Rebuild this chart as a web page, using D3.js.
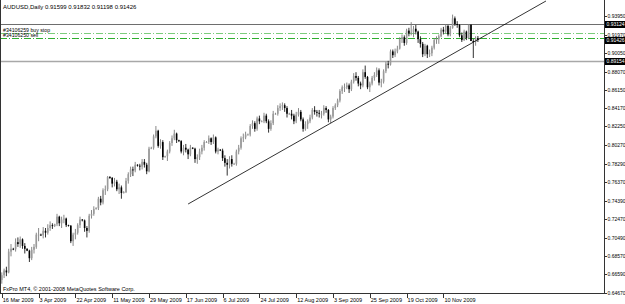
<!DOCTYPE html>
<html>
<head>
<meta charset="utf-8">
<script src="https://d3js.org/d3.v7.min.js"></script>
<style>
body { margin: 0; background: #fff; }
svg { display: block; font-family: "Liberation Sans", Arial, sans-serif; }
</style>
</head>
<body>
<div id="chart"></div>
<script>
// AUDUSD daily bars, 16 Mar 2009 onwards (one entry per bar)
const opens = [
  .6600,.6650,.6700,.6680,.6900,.6930,.6925,.7000,.6980,.7030,.6960,.6930,.6910,.6830,.6920,.6950,
  .7080,.7080,.7075,.7120,.7100,.7150,.7180,.7170,.7190,.7270,.7200,.7240,.7250,.7180,.7175,.7010,
  .7080,.7100,.7180,.7240,.7230,.7150,.7120,.7280,.7300,.7350,.7360,.7460,.7420,.7550,.7560,.7690,
  .7680,.7620,.7640,.7560,.7580,.7520,.7530,.7650,.7720,.7770,.7760,.7820,.7810,.7800,.7850,.7820,
  .7750,.7990,.8000,.8120,.8180,.8020,.8060,.7900,.7910,.7960,.8050,.8100,.8150,.8080,.8070,.7960,
  .8000,.7980,.7930,.8000,.7990,.7880,.7900,.7960,.8000,.8060,.8060,.8100,.8060,.8110,.7960,.7980,
  .7970,.7890,.7840,.7820,.7880,.7830,.7830,.7960,.8000,.8100,.8110,.8140,.8140,.8230,.8260,.8200,
  .8310,.8280,.8280,.8340,.8280,.8200,.8260,.8360,.8360,.8420,.8440,.8450,.8420,.8360,.8360,.8340,
  .8280,.8350,.8380,.8300,.8200,.8250,.8280,.8320,.8400,.8380,.8370,.8360,.8360,.8420,.8400,.8300,
  .8330,.8420,.8450,.8500,.8600,.8640,.8640,.8660,.8620,.8700,.8760,.8740,.8680,.8660,.8800,.8750,
  .8640,.8680,.8740,.8770,.8820,.8690,.8700,.8810,.8890,.8880,.9020,.8980,.9020,.9050,.9150,.9170,
  .9110,.9240,.9210,.9220,.9260,.9230,.9150,.9100,.8990,.9080,.8990,.9000,.9060,.9140,.9150,.9180,
  .9250,.9230,.9290,.9200,.9270,.9370,.9310,.9300,.9190,.9140,.9230,.9160,.9300,.9130,.9120,.91599
];
const highs = [
  .6680,.6720,.6740,.6930,.6980,.6940,.7040,.7050,.7060,.7040,.6990,.6935,.6920,.6950,.6980,.7100,
  .7150,.7090,.7160,.7150,.7190,.7220,.7200,.7195,.7300,.7280,.7270,.7290,.7260,.7185,.7180,.7100,
  .7140,.7200,.7270,.7245,.7240,.7170,.7300,.7340,.7380,.7370,.7480,.7490,.7570,.7600,.7700,.7700,
  .7690,.7680,.7660,.7620,.7600,.7540,.7680,.7740,.7800,.7800,.7850,.7825,.7830,.7880,.7880,.7840,
  .8010,.8010,.8140,.8230,.8190,.8090,.8080,.7915,.7980,.8070,.8130,.8190,.8160,.8085,.8080,.8030,
  .8040,.7990,.8030,.8005,.8000,.7930,.7990,.8030,.8080,.8070,.8130,.8110,.8140,.8120,.8000,.7985,
  .7990,.7920,.7880,.7910,.7920,.7840,.7980,.8030,.8120,.8150,.8170,.8150,.8250,.8290,.8280,.8330,
  .8340,.8290,.8370,.8360,.8300,.8290,.8390,.8370,.8450,.8470,.8480,.8470,.8440,.8370,.8400,.8360,
  .8380,.8420,.8400,.8320,.8280,.8300,.8350,.8420,.8440,.8400,.8400,.8390,.8450,.8440,.8410,.8350,
  .8440,.8470,.8520,.8620,.8660,.8680,.8690,.8680,.8720,.8790,.8800,.8760,.8700,.8830,.8870,.8760,
  .8700,.8760,.8800,.8850,.8840,.8730,.8830,.8910,.8920,.9040,.9040,.9050,.9080,.9170,.9200,.9190,
  .9260,.9270,.9330,.9290,.9300,.9240,.9180,.9120,.9100,.9090,.9040,.9080,.9160,.9180,.9200,.9270,
  .9280,.9310,.9300,.9290,.9410,.9390,.9340,.9310,.9220,.9250,.9240,.9310,.9310,.9150,.9180,.91832
];
const lows = [
  .6560,.6620,.6640,.6670,.6850,.6915,.6900,.6950,.6940,.6930,.6880,.6905,.6790,.6810,.6880,.6930,
  .7010,.7065,.7040,.7050,.7080,.7120,.7140,.7160,.7170,.7170,.7150,.7200,.7160,.7165,.6990,.6960,
  .7030,.7080,.7150,.7220,.7110,.7050,.7100,.7250,.7280,.7345,.7340,.7390,.7400,.7500,.7540,.7670,
  .7580,.7590,.7540,.7510,.7460,.7515,.7520,.7620,.7690,.7700,.7740,.7800,.7760,.7770,.7790,.7720,
  .7740,.7985,.7980,.8100,.8000,.7990,.7870,.7895,.7860,.7940,.8020,.8080,.8050,.8060,.7940,.7920,
  .7950,.7880,.7910,.7985,.7840,.7830,.7870,.7930,.7970,.8050,.8040,.8030,.8040,.7940,.7930,.7965,
  .7860,.7800,.7705,.7780,.7800,.7820,.7810,.7930,.7980,.8060,.8090,.8130,.8120,.8200,.8170,.8180,
  .8250,.8270,.8260,.8260,.8160,.8180,.8240,.8350,.8340,.8390,.8400,.8380,.8320,.8350,.8300,.8250,
  .8260,.8330,.8280,.8170,.8180,.8200,.8260,.8300,.8350,.8330,.8320,.8310,.8340,.8370,.8270,.8260,
  .8310,.8400,.8430,.8480,.8570,.8590,.8620,.8580,.8600,.8680,.8710,.8650,.8620,.8640,.8730,.8620,
  .8590,.8660,.8710,.8750,.8660,.8640,.8680,.8790,.8840,.8870,.8950,.8960,.9000,.9040,.9110,.9080,
  .9090,.9180,.9190,.9170,.9200,.9110,.9060,.8960,.8970,.8950,.8960,.8970,.9040,.9100,.9100,.9170,
  .9200,.9210,.9180,.9180,.9260,.9290,.9270,.9170,.9120,.9130,.9140,.9150,.9130,.8950,.9080,.91198
];
const closes = [
  .6650,.6700,.6680,.6900,.6930,.6925,.7000,.6980,.7030,.6960,.6930,.6910,.6830,.6920,.6950,.7080,
  .7080,.7075,.7120,.7100,.7150,.7180,.7170,.7190,.7270,.7200,.7240,.7250,.7180,.7175,.7010,.7080,
  .7100,.7180,.7240,.7230,.7150,.7120,.7280,.7300,.7350,.7360,.7460,.7420,.7550,.7560,.7690,.7680,
  .7620,.7640,.7560,.7580,.7520,.7530,.7650,.7720,.7770,.7760,.7820,.7810,.7800,.7850,.7820,.7750,
  .7990,.8000,.8120,.8180,.8020,.8060,.7900,.7910,.7960,.8050,.8100,.8150,.8080,.8070,.7960,.8000,
  .7980,.7930,.8000,.7990,.7880,.7900,.7960,.8000,.8060,.8060,.8100,.8060,.8110,.7960,.7980,.7970,
  .7890,.7840,.7820,.7880,.7830,.7830,.7960,.8000,.8100,.8110,.8140,.8140,.8230,.8260,.8200,.8310,
  .8280,.8280,.8340,.8280,.8200,.8260,.8360,.8360,.8420,.8440,.8450,.8420,.8360,.8360,.8340,.8280,
  .8350,.8380,.8300,.8200,.8250,.8280,.8320,.8400,.8380,.8370,.8360,.8360,.8420,.8400,.8300,.8330,
  .8420,.8450,.8500,.8600,.8640,.8640,.8660,.8620,.8700,.8760,.8740,.8680,.8660,.8800,.8750,.8640,
  .8680,.8740,.8770,.8820,.8690,.8700,.8810,.8890,.8880,.9020,.8980,.9020,.9050,.9150,.9170,.9110,
  .9240,.9210,.9220,.9260,.9230,.9150,.9100,.8990,.9080,.8990,.9000,.9060,.9140,.9150,.9180,.9250,
  .9230,.9290,.9200,.9270,.9370,.9310,.9300,.9190,.9140,.9230,.9160,.9300,.9130,.9120,.9160,.91426
];

const dateLabels = ["16 Mar 2009", "3 Apr 2009", "22 Apr 2009", "11 May 2009", "29 May 2009",
  "17 Jun 2009", "6 Jul 2009", "24 Jul 2009", "12 Aug 2009", "3 Sep 2009", "25 Sep 2009",
  "19 Oct 2009", "10 Nov 2009"];
const barsPerLabel = 16;

const priceTicks = [0.93950, 0.91970, 0.90050, 0.88070, 0.86150, 0.84170, 0.82250, 0.80270,
  0.78290, 0.76370, 0.74390, 0.72470, 0.70490, 0.68570, 0.66590, 0.64670];

// horizontal lines with a price box on the axis
const levelPrices = [0.93124, 0.89154];
const levelColors = ["#6e6e6e", "#a8a8a8"];
const bidPrice = 0.91426;

// pending orders
const orderNames = ["#34106259 buy stop", "#34106250 sell"];
const orderPrices = [0.9212, 0.9160];

// trend line: [bar index, price]
const trendBars = [81, 236.6];
const trendPrices = [0.7404, 0.9554];

const title = "AUDUSD,Daily  0.91599 0.91832 0.91198 0.91426";
const footer = "FxPro MT4, \u00a9 2001-2008 MetaQuotes Software Corp.";

const width = 625, height = 304;
const plot = { left: 1, right: 604, top: 0, bottom: 293 };

const svg = d3.select("#chart").append("svg")
    .attr("width", width)
    .attr("height", height);

const x = d3.scaleLinear()
    .domain([0, 192])
    .range([1.8, 443.4]);

const y = d3.scaleLinear()
    .domain([0.64670, 0.93950])
    .range([292.5, 16]);

svg.append("clipPath").attr("id", "plotclip")
  .append("rect")
    .attr("x", plot.left).attr("y", plot.top)
    .attr("width", plot.right - plot.left).attr("height", plot.bottom - plot.top);

const area = svg.append("g").attr("clip-path", "url(#plotclip)");

// level lines
levelPrices.forEach((p, i) => {
    area.append("line")
        .attr("x1", 0).attr("x2", plot.right)
        .attr("y1", Math.round(y(p)) + 0.5).attr("y2", Math.round(y(p)) + 0.5)
        .attr("stroke", levelColors[i])
        .attr("stroke-width", i === 1 ? 1.5 : 1);
});

// pending order lines
orderPrices.forEach((p, i) => {
    area.append("line")
        .attr("x1", 0).attr("x2", plot.right)
        .attr("y1", Math.round(y(p)) + 0.5).attr("y2", Math.round(y(p)) + 0.5)
        .attr("stroke", i === 0 ? "#7ccc7c" : "#2fae2f")
        .attr("stroke-dasharray", "7,2,1,2");
});

svg.selectAll(".order-label")
  .data(orderNames)
  .join("text")
    .attr("class", "order-label")
    .attr("x", 3)
    .attr("y", (d, i) => Math.round(y(orderPrices[i])) - 1.5)
    .attr("font-size", 5.2)
    .attr("fill", "#000")
    .text(d => d);

// candles
const bars = d3.range(closes.length);

area.selectAll(".wick")
  .data(bars)
  .join("line")
    .attr("class", "wick")
    .attr("x1", i => x(i)).attr("x2", i => x(i))
    .attr("y1", i => y(highs[i])).attr("y2", i => y(lows[i]))
    .attr("stroke", i => closes[i] >= opens[i] ? "#7a7a7a" : "#1a1a1a")
    .attr("stroke-width", 0.9);

area.selectAll(".body")
  .data(bars)
  .join("rect")
    .attr("class", "body")
    .attr("x", i => x(i) - 0.8)
    .attr("width", 1.6)
    .attr("y", i => y(Math.max(opens[i], closes[i])))
    .attr("height", i => Math.max(0.8, Math.abs(y(opens[i]) - y(closes[i]))))
    .attr("fill", i => closes[i] >= opens[i] ? "#9a9a9a" : "#000");

// trend line
area.append("line")
    .attr("x1", x(trendBars[0])).attr("y1", y(trendPrices[0]))
    .attr("x2", x(trendBars[1])).attr("y2", y(trendPrices[1]))
    .attr("stroke", "#000")
    .attr("stroke-width", 0.8);

// frame
svg.append("line")
    .attr("x1", 0.5).attr("x2", 0.5).attr("y1", 0).attr("y2", plot.bottom)
    .attr("stroke", "#333");
svg.append("line")
    .attr("x1", 0).attr("x2", plot.right + 0.5)
    .attr("y1", plot.bottom + 0.5).attr("y2", plot.bottom + 0.5)
    .attr("stroke", "#333");
svg.append("line")
    .attr("x1", plot.right + 0.5).attr("x2", plot.right + 0.5)
    .attr("y1", 0).attr("y2", plot.bottom + 1)
    .attr("stroke", "#333");

// price axis
const yAxis = svg.append("g");
yAxis.selectAll("line")
  .data(priceTicks)
  .join("line")
    .attr("x1", plot.right + 1).attr("x2", plot.right + 3)
    .attr("y1", d => Math.round(y(d)) + 0.5).attr("y2", d => Math.round(y(d)) + 0.5)
    .attr("stroke", "#333");
yAxis.selectAll("text")
  .data(priceTicks)
  .join("text")
    .attr("x", plot.right + 3.5)
    .attr("y", d => y(d) + 2)
    .attr("font-size", 5)
    .attr("fill", "#000")
    .text(d => d3.format(".5f")(d));

// price boxes
const boxPrices = [levelPrices[0], bidPrice, levelPrices[1]];
const boxes = svg.selectAll(".pbox")
  .data(boxPrices)
  .join("g")
    .attr("class", "pbox")
    .attr("transform", d => `translate(${plot.right + 1},${Math.round(y(d)) - 3})`);
boxes.append("rect")
    .attr("width", 20).attr("height", 7)
    .attr("fill", "#000");
boxes.append("text")
    .attr("x", 1.5).attr("y", 5.3)
    .attr("font-size", 5)
    .attr("fill", "#fff")
    .text(d => d3.format(".5f")(d));

// date axis
const xAxis = svg.append("g");
xAxis.selectAll("line")
  .data(dateLabels)
  .join("line")
    .attr("x1", (d, i) => Math.round(x(i * barsPerLabel)) + 0.5)
    .attr("x2", (d, i) => Math.round(x(i * barsPerLabel)) + 0.5)
    .attr("y1", plot.bottom + 1).attr("y2", plot.bottom + 5)
    .attr("stroke", "#333");
xAxis.selectAll("text")
  .data(dateLabels)
  .join("text")
    .attr("x", (d, i) => x(i * barsPerLabel) + 1)
    .attr("y", 301.5)
    .attr("font-size", 5.5)
    .attr("fill", "#000")
    .text(d => d);

// texts
svg.append("text")
    .attr("x", 3).attr("y", 9)
    .attr("font-size", 6)
    .attr("fill", "#000")
    .text(title);

svg.append("text")
    .attr("x", 3).attr("y", 290.5)
    .attr("font-size", 5.5)
    .attr("fill", "#000")
    .text(footer);
</script>
</body>
</html>
